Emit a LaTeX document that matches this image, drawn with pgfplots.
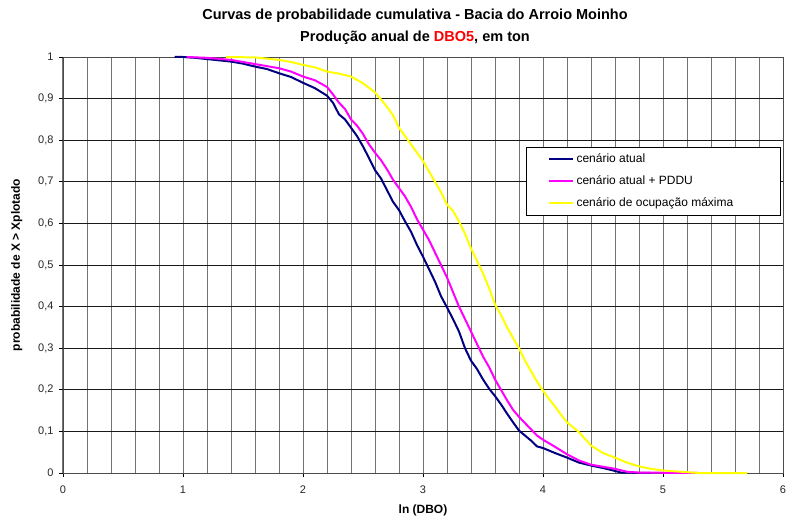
\documentclass[border=0pt]{standalone}
\usepackage{pgfplots}
\pgfplotsset{compat=1.18}
\usepackage{fontspec}
\setmainfont{Liberation Sans}
\definecolor{navy}{RGB}{0,0,128}
\definecolor{mag}{RGB}{255,0,255}
\definecolor{yel}{RGB}{255,255,0}

\pgfplotstableread{
x y
0.93 1.000
1.00 1.000
1.10 0.998
1.20 0.995
1.30 0.992
1.40 0.989
1.50 0.984
1.60 0.977
1.70 0.971
1.80 0.961
1.90 0.952
2.00 0.938
2.10 0.925
2.20 0.907
2.25 0.890
2.30 0.862
2.35 0.850
2.40 0.830
2.45 0.810
2.50 0.785
2.55 0.757
2.60 0.728
2.65 0.708
2.70 0.680
2.75 0.652
2.80 0.632
2.85 0.605
2.90 0.580
2.95 0.548
3.00 0.520
3.05 0.490
3.10 0.460
3.15 0.425
3.20 0.398
3.25 0.370
3.30 0.340
3.35 0.300
3.40 0.270
3.45 0.250
3.50 0.225
3.55 0.203
3.60 0.185
3.65 0.165
3.70 0.143
3.75 0.122
3.80 0.102
3.85 0.090
3.90 0.078
3.95 0.064
4.00 0.060
4.10 0.048
4.20 0.037
4.30 0.025
4.40 0.018
4.50 0.012
4.60 0.005
4.65 0.001
4.90 0.000
}\atual

\pgfplotstableread{
x y
1.03 1.000
1.20 0.998
1.40 0.993
1.60 0.983
1.80 0.973
1.90 0.965
2.00 0.953
2.10 0.944
2.20 0.928
2.25 0.910
2.30 0.890
2.35 0.875
2.40 0.850
2.45 0.835
2.50 0.815
2.55 0.790
2.60 0.770
2.65 0.752
2.70 0.730
2.75 0.705
2.80 0.685
2.85 0.665
2.90 0.640
2.95 0.610
3.00 0.585
3.05 0.560
3.10 0.530
3.15 0.500
3.20 0.470
3.25 0.435
3.30 0.400
3.35 0.370
3.40 0.340
3.45 0.310
3.50 0.280
3.55 0.255
3.60 0.225
3.65 0.200
3.70 0.175
3.75 0.152
3.80 0.135
3.85 0.120
3.90 0.105
3.95 0.090
4.00 0.080
4.10 0.063
4.20 0.045
4.30 0.030
4.40 0.020
4.50 0.015
4.60 0.010
4.70 0.003
4.80 0.001
5.30 0.000
}\pddu

\pgfplotstableread{
x y
1.36 1.000
1.60 0.999
1.80 0.993
1.90 0.988
2.00 0.981
2.10 0.975
2.20 0.965
2.30 0.960
2.40 0.953
2.50 0.937
2.60 0.915
2.65 0.898
2.70 0.880
2.75 0.860
2.80 0.830
2.85 0.810
2.90 0.790
2.95 0.770
3.00 0.750
3.05 0.725
3.10 0.700
3.15 0.675
3.20 0.645
3.25 0.630
3.30 0.605
3.35 0.575
3.40 0.540
3.45 0.510
3.50 0.480
3.55 0.445
3.60 0.405
3.65 0.380
3.70 0.350
3.75 0.325
3.80 0.300
3.85 0.270
3.90 0.245
3.95 0.220
4.00 0.198
4.05 0.178
4.10 0.160
4.15 0.140
4.20 0.122
4.30 0.098
4.40 0.066
4.50 0.048
4.60 0.037
4.70 0.025
4.80 0.016
4.90 0.010
5.00 0.006
5.10 0.004
5.20 0.002
5.30 0.000
5.70 0.000
}\maxima

\begin{document}
\begin{tikzpicture}
\path[use as bounding box] (-63pt,-52pt) rectangle (728pt,473pt);
\begin{axis}[
  at={(0pt,0pt)}, anchor=south west,
  scale only axis,
  width=720pt, height=416pt,
  xmin=0, xmax=6, ymin=0, ymax=1,
  xtick={0,1,...,6},
  minor x tick num=4,
  ytick={0,0.1,...,1.0001},
  /pgf/number format/use comma,
  /pgf/number format/fixed,
  /pgf/number format/assume math mode=true,
  tick label style={font=\fontsize{11}{13}\selectfont, black!85},
  xticklabel style={yshift=-5pt},
  yticklabel style={xshift=-2pt},
  tick align=outside,
  major tick length=4pt,
  minor tick length=0pt,
  xtick pos=bottom, ytick pos=left,
  grid=both,
  major x grid style={black!55, line width=1pt},
  minor x grid style={black!55, line width=1pt},
  major y grid style={black!90, line width=0.7pt},
  axis line style={black!70, line width=0.8pt},
  every tick/.style={black, line width=0.8pt},
  xlabel={\textbf{ln (DBO)}},
  xlabel style={font=\fontsize{12}{14}\selectfont, yshift=-5pt},
  ylabel={\textbf{probabilidade de X > Xplotado}},
  ylabel style={font=\fontsize{12}{14}\selectfont, yshift=9pt},
  legend style={at={(rel axis cs:0.997,0.784)}, anchor=north east,
    font=\fontsize{12}{14}\selectfont, draw=black, line width=0.6pt,
    inner xsep=22pt, inner ysep=5pt, row sep=7.5pt,
    cells={anchor=west}},
  legend image code/.code={\draw[#1, line width=2.2pt] (0pt,0pt) -- (24pt,0pt);},
  clip=false,
]
\addplot[navy, line width=2pt] table {\atual};
\addlegendentry{\makebox[180pt][l]{cenário atual}}
\addplot[mag, line width=2pt] table {\pddu};
\addlegendentry{\makebox[180pt][l]{cenário atual + PDDU}}
\addplot[yel, line width=2pt] table {\maxima};
\addlegendentry{\makebox[180pt][l]{cenário de ocupação máxima}}
\end{axis}
\node[font=\fontsize{14.5}{16}\selectfont\bfseries, anchor=base] at (352pt,453pt)
  {Curvas de probabilidade cumulativa - Bacia do Arroio Moinho};
\node[font=\fontsize{14.5}{16}\selectfont\bfseries, anchor=base] at (352pt,431pt)
  {Produção anual de \textcolor{red}{DBO5}, em ton};
\end{tikzpicture}
\end{document}
